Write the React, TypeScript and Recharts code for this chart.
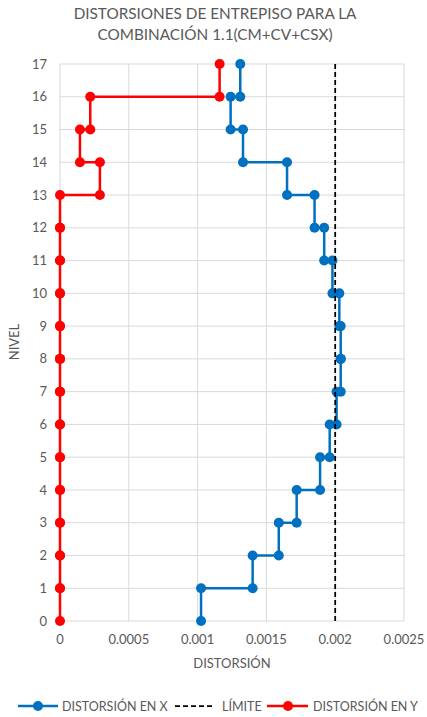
import React from 'react';
import { ScatterChart, Scatter, XAxis, YAxis, CartesianGrid } from 'recharts';

const levels = [0, 1, 2, 3, 4, 5, 6, 7, 8, 9, 10, 11, 12, 13, 14, 15, 16, 17];
const driftX = [0.001025, 0.0014, 0.00159, 0.00172, 0.00189, 0.00196, 0.00201, 0.00204, 0.00204, 0.00203, 0.00198, 0.00192, 0.00185, 0.00165, 0.00133, 0.00124, 0.00131];
const driftY = [0, 0, 0, 0, 0, 0, 0, 0, 0, 0, 0, 0, 0, 0.00029, 0.000145, 0.00022, 0.00116];
const limitValue = 0.002;
const xTicks = [0, 0.0005, 0.001, 0.0015, 0.002, 0.0025];
const titleLines = ['DISTORSIONES DE ENTREPISO PARA LA', 'COMBINACIÓN 1.1(CM+CV+CSX)'];
const seriesNames = ['DISTORSIÓN EN  X', 'LÍMITE', 'DISTORSIÓN EN  Y'];

const BLUE = '#0070C0';
const RED = '#FF0000';
const TEXT = '#595959';
const FONT = 'Lato, "Open Sans", sans-serif';

function stepPoints(drifts: number[]) {
  const pts: { x: number; y: number }[] = [];
  drifts.forEach((d, i) => {
    pts.push({ x: d, y: levels[i] });
    pts.push({ x: d, y: levels[i + 1] });
  });
  return pts;
}

const blueData = stepPoints(driftX);
const redData = stepPoints(driftY);
const limitData = [
  { x: limitValue, y: levels[0] },
  { x: limitValue, y: levels[levels.length - 1] },
];

const dot = (color: string) => (p: any) => <circle cx={p.cx} cy={p.cy} r={5} fill={color} />;
const noDot = () => <g />;

export default function App() {
  return (
    <div style={{ position: 'absolute', left: 0, top: 0, width: 427, height: 717, background: '#fff', fontFamily: FONT }}>
      <ScatterChart width={427} height={717} margin={{ top: 64, right: 23, left: 0, bottom: 46 }}>
        <CartesianGrid stroke="#d9d9d9" strokeWidth={1} />
        <XAxis
          type="number"
          dataKey="x"
          domain={[0, 0.0025]}
          ticks={xTicks}
          axisLine={false}
          tickLine={false}
          tickMargin={8}
          height={50}
          tick={{ fill: TEXT, fontSize: 13, fontFamily: FONT }}
          tickFormatter={(v: number) => String(v)}
          label={{
            position: 'insideBottom',
            content: () => (
              <text x={232} y={668} textAnchor="middle" fill={TEXT} fontSize={13} fontFamily={FONT}>DISTORSIÓN</text>
            ),
          }}
        />
        <YAxis
          type="number"
          dataKey="y"
          domain={[0, 17]}
          ticks={levels}
          interval={0}
          axisLine={false}
          tickLine={false}
          tickMargin={7}
          width={60}
          tick={{ fill: TEXT, fontSize: 13, fontFamily: FONT }}
          label={{
            position: 'insideLeft',
            content: () => (
              <text x={14} y={342} transform="rotate(-90 14 342)" textAnchor="middle" dominantBaseline="central" fill={TEXT} fontSize={13} fontFamily={FONT}>NIVEL</text>
            ),
          }}
        />
        <Scatter
          name={seriesNames[0]}
          data={blueData}
          line={{ stroke: BLUE, strokeWidth: 2.5 }}
          lineType="joint"
          shape={dot(BLUE)}
          isAnimationActive={false}
        />
        <Scatter
          name={seriesNames[1]}
          data={limitData}
          line={{ stroke: '#000', strokeWidth: 1.75, strokeDasharray: '5 3' }}
          lineType="joint"
          shape={noDot}
          isAnimationActive={false}
        />
        <Scatter
          name={seriesNames[2]}
          data={redData}
          line={{ stroke: RED, strokeWidth: 2.5 }}
          lineType="joint"
          shape={dot(RED)}
          isAnimationActive={false}
        />
      </ScatterChart>
      <svg width={427} height={717} style={{ position: 'absolute', left: 0, top: 0, pointerEvents: 'none' }}>
        <text x={215} y={19} textAnchor="middle" fill={TEXT} fontSize={15.3} fontFamily={FONT}>{titleLines[0]}</text>
        <text x={215} y={40} textAnchor="middle" fill={TEXT} fontSize={15.3} fontFamily={FONT}>{titleLines[1]}</text>
        <g fontSize={12.5} fontFamily={FONT} fill={TEXT} style={{ whiteSpace: 'pre' }}>
          <line x1={18} x2={58} y1={706} y2={706} stroke={BLUE} strokeWidth={2.5} />
          <circle cx={38} cy={706} r={5} fill={BLUE} />
          <text x={62} y={710.5}>{seriesNames[0]}</text>
          <line x1={175} x2={213} y1={706} y2={706} stroke="#000" strokeWidth={1.75} strokeDasharray="5 3" />
          <text x={222} y={710.5}>{seriesNames[1]}</text>
          <line x1={267} x2={308} y1={706} y2={706} stroke={RED} strokeWidth={2.5} />
          <circle cx={288} cy={706} r={5} fill={RED} />
          <text x={313} y={710.5}>{seriesNames[2]}</text>
        </g>
      </svg>
    </div>
  );
}
